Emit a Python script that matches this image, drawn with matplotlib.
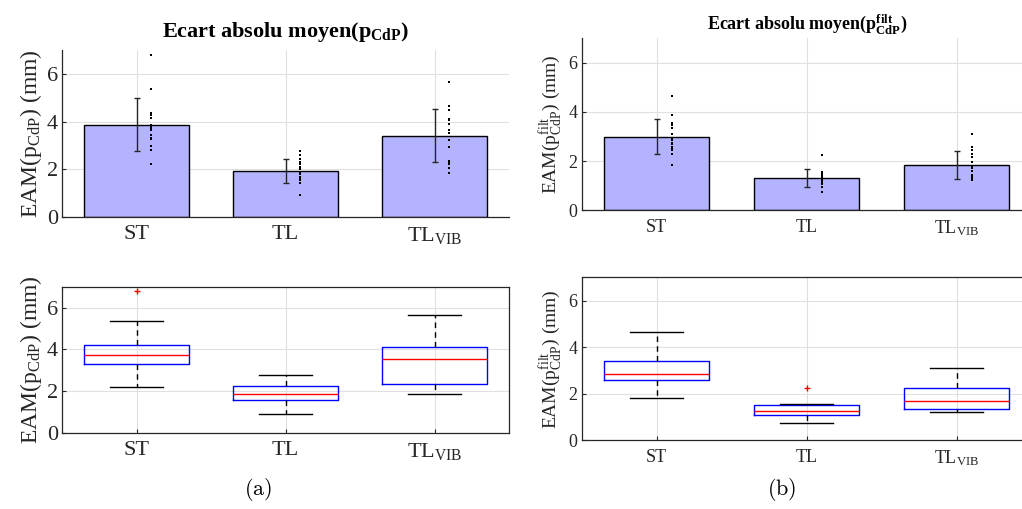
import numpy as np
import matplotlib
matplotlib.use('Agg')
import matplotlib.pyplot as plt

plt.rcParams['font.family'] = 'Liberation Serif'
plt.rcParams['mathtext.fontset'] = 'custom'
plt.rcParams['mathtext.rm'] = 'Liberation Serif'
plt.rcParams['mathtext.it'] = 'Liberation Serif:italic'
plt.rcParams['mathtext.bf'] = 'Liberation Serif:bold'

#%% data (EAM per subject, mm)
groups = ['ST', 'TL', r'TL$_{\rm VIB}$']

st_raw = [2.21, 2.79, 2.96, 3.28, 3.32, 3.45, 3.65, 3.73, 3.80, 3.84, 4.16, 4.28, 4.37, 5.38, 6.81]
tl_raw = [0.91, 1.42, 1.55, 1.58, 1.62, 1.69, 1.80, 1.88, 2.03, 2.10, 2.24, 2.30, 2.44, 2.60, 2.78]
vib_raw = [1.86, 2.07, 2.23, 2.30, 2.36, 2.94, 3.21, 3.53, 3.66, 3.89, 4.08, 4.12, 4.48, 4.65, 5.64]

st_filt = [1.83, 2.30, 2.45, 2.55, 2.59, 2.68, 2.75, 2.85, 2.95, 3.10, 3.35, 3.45, 3.54, 3.88, 4.64]
tl_filt = [0.73, 0.95, 1.05, 1.08, 1.12, 1.18, 1.22, 1.27, 1.35, 1.42, 1.50, 1.56, 1.57, 1.57, 2.23]
vib_filt = [1.23, 1.25, 1.30, 1.33, 1.37, 1.45, 1.58, 1.70, 1.82, 1.95, 2.18, 2.28, 2.45, 2.58, 3.10]

raw = [st_raw, tl_raw, vib_raw]
filt = [st_filt, tl_filt, vib_filt]

ax_col = '0.15'
grid_col = '0.88'


def style(ax, fs, box):
    ax.set_xlim(0.5, 3.5)
    ax.set_ylim(0, 7)
    ax.set_yticks([0, 2, 4, 6])
    ax.set_xticks([1, 2, 3])
    ax.set_xticklabels(groups)
    ax.tick_params(direction='in', length=3, labelsize=fs, colors=ax_col)
    ax.tick_params(axis='x', pad=6)
    ax.tick_params(axis='y', pad=3)
    ax.grid(True, color=grid_col, lw=0.8)
    ax.set_axisbelow(True)
    for s in ax.spines.values():
        s.set_color(ax_col)
        s.set_linewidth(0.9)
    if not box:
        ax.spines['top'].set_visible(False)
        ax.spines['right'].set_visible(False)


def bars(ax, data, fs):
    pos = np.arange(1, 4)
    means = [np.mean(d) for d in data]
    sds = [np.std(d, ddof=1) for d in data]
    ax.bar(pos, means, width=0.7, color='#b3b3ff', edgecolor='black', lw=1, zorder=2)
    ax.errorbar(pos, means, yerr=sds, fmt='none', ecolor='0.15', elinewidth=1,
                capsize=2.5, capthick=1, zorder=3)
    for p, d in zip(pos, data):
        ax.plot(np.full(len(d), p + 0.1), d, 's', color='black', ms=1.6, mew=0, zorder=4)
    style(ax, fs, box=False)


def boxes(ax, data, fs):
    ax.boxplot(data, positions=[1, 2, 3], widths=0.7, whis=1.5,
               boxprops=dict(color='blue', lw=1),
               medianprops=dict(color='red', lw=1),
               whiskerprops=dict(color='black', lw=1, ls=(0, (4, 3))),
               capprops=dict(color='black', lw=1),
               capwidths=0.35,
               flierprops=dict(marker='+', markeredgecolor='red', markersize=4, mew=1))
    style(ax, fs, box=True)


fig = plt.figure(figsize=(10.22, 5.09), dpi=100)

#%% (a) raw
a1 = fig.add_axes([0.0607, 0.5737, 0.4374, 0.3281])
bars(a1, raw, 16)
a1.set_title(r'$\mathbf{Ecart\ absolu\ moyen(p_{CdP})}$', fontsize=16, pad=9)
a1.set_ylabel(r'EAM(p$_{\rm CdP}$) (mm)', fontsize=17, color=ax_col, labelpad=2)

a2 = fig.add_axes([0.0607, 0.1493, 0.4374, 0.2874])
boxes(a2, raw, 16)
a2.set_ylabel(r'EAM(p$_{\rm CdP}$) (mm)', fontsize=17, color=ax_col, labelpad=2)

#%% (b) filtered
b1 = fig.add_axes([0.5692, 0.5868, 0.4403, 0.3385])
bars(b1, filt, 13)
b1.set_title(r'$\mathbf{Ecart\ absolu\ moyen(p_{CdP}^{filt})}$', fontsize=13, pad=6)
b1.set_ylabel(r'EAM(p$_{\rm CdP}^{\rm filt}$) (mm)', fontsize=14, color=ax_col, labelpad=3)

b2 = fig.add_axes([0.5692, 0.1349, 0.4403, 0.3202])
boxes(b2, filt, 13)
b2.set_ylabel(r'EAM(p$_{\rm CdP}^{\rm filt}$) (mm)', fontsize=14, color=ax_col, labelpad=3)

fig.text(0.2524, 0.028, r'$\mathrm{(a)}$', fontsize=16, ha='center', math_fontfamily='cm')
fig.text(0.765, 0.028, r'$\mathrm{(b)}$', fontsize=16, ha='center', math_fontfamily='cm')

fig.savefig('out.png', dpi=100)
